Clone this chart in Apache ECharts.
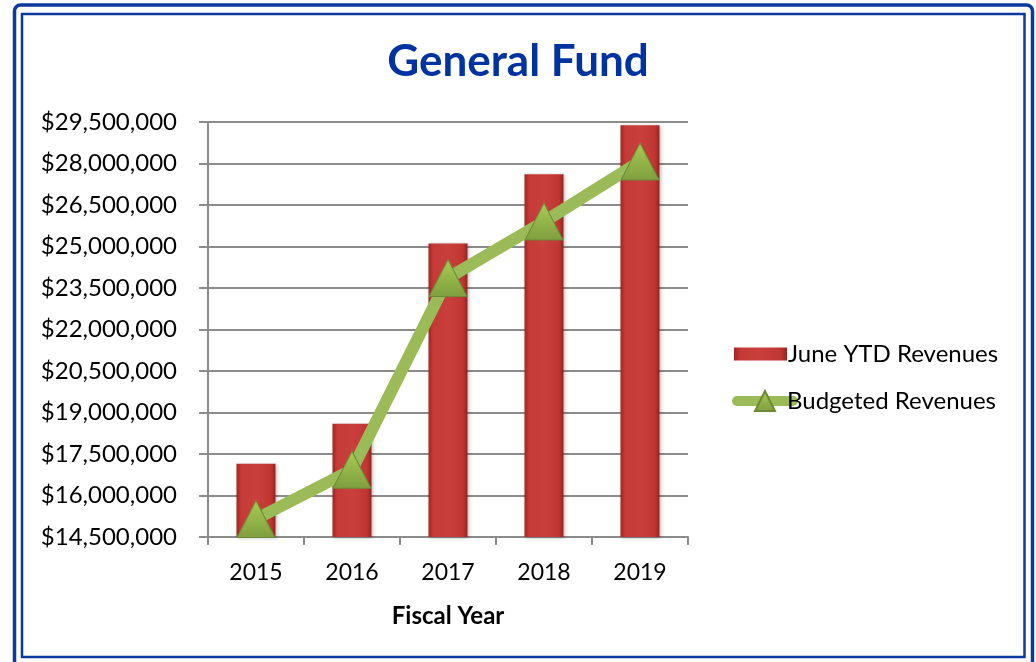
<!DOCTYPE html>
<html>
<head>
<meta charset="utf-8">
<script src="https://cdn.jsdelivr.net/npm/echarts@6/dist/echarts.min.js"></script>
<style>
  html, body { margin: 0; padding: 0; background: #ffffff; }
  #chart { width: 1036px; height: 662px; }
</style>
</head>
<body>
<div id="chart"></div>
<script>
// Fiscal years shown on the category axis
const years = ['2015', '2016', '2017', '2018', '2019'];
// Revenues collected through June of each fiscal year
const juneYtdRevenues = [17150000, 18590000, 25110000, 27610000, 29380000];
// Budgeted revenues for each fiscal year
const budgetedRevenues = [15150000, 16930000, 23860000, 25900000, 28070000];
// Value-axis range and step
const axisMin = 14500000;
const axisMax = 29500000;
const axisStep = 1500000;

const FONT = 'Lato, "Open Sans", sans-serif';
const FRAME_BLUE = '#0b3a9e';
const GREEN = '#9bbb59';

const chart = echarts.init(document.getElementById('chart'), null, { renderer: 'canvas' });

const money = v => '$' + Math.round(v).toLocaleString('en-US');

chart.setOption({
  backgroundColor: '#ffffff',
  animation: false,
  title: {
    text: 'General Fund',
    left: 'center',
    top: 35,
    textStyle: { fontFamily: FONT, fontWeight: 'bold', fontSize: 44, color: '#0033a0' }
  },
  graphic: [
    // double blue frame around the chart
    { type: 'rect', shape: { x: 14.5, y: 5, width: 1018, height: 680, r: 6 },
      style: { fill: null, stroke: FRAME_BLUE, lineWidth: 3.5 }, z: 100 },
    { type: 'rect', shape: { x: 22, y: 14, width: 1002.5, height: 643 },
      style: { fill: null, stroke: FRAME_BLUE, lineWidth: 2.5 }, z: 100 }
  ],
  legend: [
    {
      left: 729,
      top: 337,
      itemWidth: 53,
      itemHeight: 13,
      textStyle: { fontFamily: FONT, fontSize: 24, color: '#000', padding: [0, 0, 0, -4] },
      data: [{ name: 'June YTD Revenues', icon: 'rect' }]
    },
    {
      left: 727,
      top: 384,
      itemWidth: 56,
      itemHeight: 25,
      textStyle: { fontFamily: FONT, fontSize: 24, color: '#000', padding: [0, 0, 0, -11] },
      lineStyle: { width: 10, cap: 'round', color: GREEN },
      data: [{ name: 'Budgeted Revenues' }]
    }
  ],
  grid: { left: 208, right: 348, top: 122, bottom: 125, containLabel: false },
  xAxis: {
    type: 'category',
    data: years,
    name: 'Fiscal Year',
    nameLocation: 'middle',
    nameGap: 67,
    nameTextStyle: { fontFamily: FONT, fontWeight: 'bold', fontSize: 24, color: '#000' },
    axisLine: { lineStyle: { color: '#8c8c8c', width: 2 } },
    axisTick: { show: true, length: 8, alignWithLabel: false, lineStyle: { color: '#8c8c8c', width: 2 } },
    axisLabel: { fontFamily: FONT, fontSize: 23, color: '#000', margin: 24 }
  },
  yAxis: {
    type: 'value',
    min: axisMin,
    max: axisMax,
    interval: axisStep,
    axisLine: { show: true, lineStyle: { color: '#8c8c8c', width: 2 } },
    axisTick: { show: true, length: 9, lineStyle: { color: '#8c8c8c', width: 2 } },
    axisLabel: { fontFamily: FONT, fontSize: 24, color: '#000', margin: 31, formatter: money },
    splitLine: { show: true, lineStyle: { color: '#8c8c8c', width: 2 } }
  },
  series: [
    {
      name: 'June YTD Revenues',
      type: 'bar',
      data: juneYtdRevenues,
      barWidth: 39,
      itemStyle: {
        color: new echarts.graphic.LinearGradient(0, 0, 1, 0, [
          { offset: 0, color: '#9e2623' },
          { offset: 0.12, color: '#c43a36' },
          { offset: 0.5, color: '#c93f3b' },
          { offset: 0.88, color: '#bf3733' },
          { offset: 1, color: '#952320' }
        ]),
        shadowColor: 'rgba(0,0,0,0.25)',
        shadowBlur: 4,
        shadowOffsetX: 1,
        shadowOffsetY: 1
      },
      z: 2
    },
    {
      name: 'Budgeted Revenues',
      type: 'line',
      data: budgetedRevenues,
      symbol: 'triangle',
      symbolSize: [38, 37],
      lineStyle: { color: GREEN, width: 12 },
      itemStyle: {
        color: new echarts.graphic.LinearGradient(0, 0, 0, 1, [
          { offset: 0, color: '#a8cc55' },
          { offset: 1, color: '#7f9e3e' }
        ]),
        borderColor: '#6c8a35',
        borderWidth: 1
      },
      clip: false,
      z: 3
    }
  ]
});
</script>
</body>
</html>
